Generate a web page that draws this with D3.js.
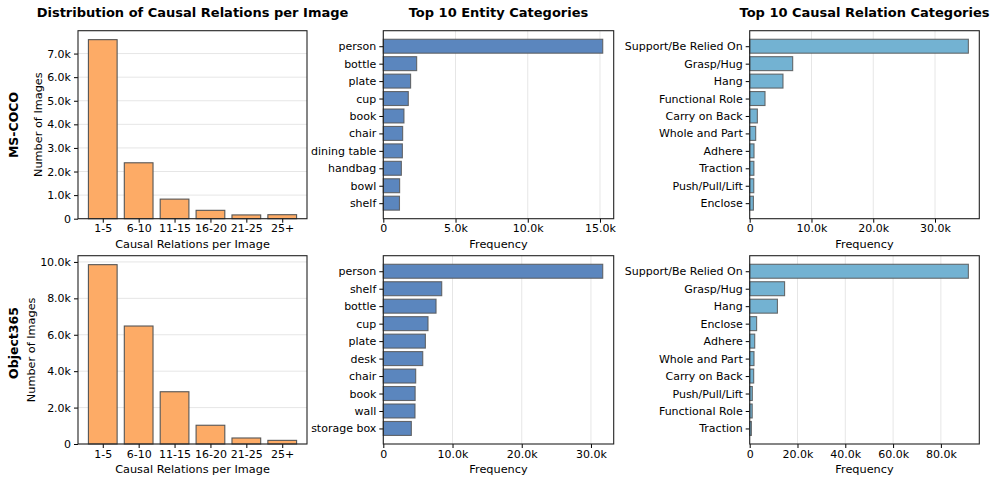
<!DOCTYPE html>
<html>
<head>
<meta charset="utf-8">
<script src="https://cdn.jsdelivr.net/npm/d3@7"></script>
<style>
  body { margin: 0; background: #fff; }
  svg { font-family: "DejaVu Sans", sans-serif; }
  .tick line { stroke: #000; }
</style>
</head>
<body>
<svg id="chart" width="997" height="483"></svg>
<script>
// --- data ---

const bins = ['1-5', '6-10', '11-15', '16-20', '21-25', '25+'];
const cocoBins = [7590, 2370, 830, 355, 160, 170];
const o365Bins = [9850, 6480, 2870, 1030, 330, 200];

const cocoEntities = ['person', 'bottle', 'plate', 'cup', 'book', 'chair', 'dining table', 'handbag', 'bowl', 'shelf'];
const cocoEntityFreq = [15190, 2310, 1890, 1730, 1430, 1340, 1320, 1250, 1130, 1120];
const o365Entities = ['person', 'shelf', 'bottle', 'cup', 'plate', 'desk', 'chair', 'book', 'wall', 'storage box'];
const o365EntityFreq = [31700, 8440, 7620, 6460, 6080, 5700, 4680, 4600, 4580, 4050];

const cocoRelations = ['Support/Be Relied On', 'Grasp/Hug', 'Hang', 'Functional Role', 'Carry on Back', 'Whole and Part', 'Adhere', 'Traction', 'Push/Pull/Lift', 'Enclose'];
const cocoRelationFreq = [35400, 6960, 5390, 2480, 1240, 970, 700, 680, 660, 600];
const o365Relations = ['Support/Be Relied On', 'Grasp/Hug', 'Hang', 'Enclose', 'Adhere', 'Whole and Part', 'Carry on Back', 'Push/Pull/Lift', 'Functional Role', 'Traction'];
const o365RelationFreq = [91500, 14600, 11600, 2900, 2100, 1800, 1670, 1100, 1050, 700];

const ticksHistTop = [0, 1000, 2000, 3000, 4000, 5000, 6000, 7000];
const ticksHistBot = [0, 2000, 4000, 6000, 8000, 10000];
const ticksEntTop = [0, 5000, 10000, 15000];
const ticksEntBot = [0, 10000, 20000, 30000];
const ticksRelTop = [0, 10000, 20000, 30000];
const ticksRelBot = [0, 20000, 40000, 60000, 80000];

const ORANGE = '#fdab66';
const BLUE = '#5b86be';
const LIGHTBLUE = '#73b2d2';
const FONT = '"DejaVu Sans", sans-serif';
const TICK_SIZE = 11;

// --- layout ---

const svg = d3.select('#chart');
const cols = [[78, 307], [383.3, 613.7], [749.7, 979.3]];
const rows = [[30.7, 218.7], [255.7, 444]];

const fmtK = v => v === 0 ? '0' : (v / 1000).toFixed(1) + 'k';

function styleAxis(a) {
  a.select('.domain').remove();
  a.attr('font-family', FONT).attr('font-size', TICK_SIZE);
  a.selectAll('.tick text').attr('fill', '#000');
}

function frame(g, x0, x1, y0, y1) {
  g.append('rect')
    .attr('x', x0).attr('y', y0)
    .attr('width', x1 - x0).attr('height', y1 - y0)
    .attr('fill', 'none').attr('stroke', '#222').attr('stroke-width', 1.1);
}

function histPanel(col, row, values, ticks, ylabelX) {
  const [x0, x1] = cols[col], [y0, y1] = rows[row];
  const g = svg.append('g');
  const n = values.length;
  const pad = 0.05 * (n - 0.2);
  const x = d3.scaleLinear().domain([-0.4 - pad, n - 0.6 + pad]).range([x0, x1]);
  const y = d3.scaleLinear().domain([0, d3.max(values) * 1.05]).range([y1, y0]);

  g.append('g').selectAll('line').data(ticks).join('line')
    .attr('x1', x0).attr('x2', x1)
    .attr('y1', d => y(d)).attr('y2', d => y(d))
    .attr('stroke', '#e6e6e6').attr('stroke-width', 1);

  g.append('g').selectAll('rect').data(values).join('rect')
    .attr('x', (d, i) => x(i - 0.4)).attr('width', x(0.4) - x(-0.4))
    .attr('y', d => y(d)).attr('height', d => y1 - y(d))
    .attr('fill', ORANGE).attr('stroke', '#555').attr('stroke-width', 1.1);

  g.append('g').attr('transform', `translate(${x0},0)`)
    .call(d3.axisLeft(y).tickValues(ticks).tickFormat(fmtK).tickSize(4).tickPadding(3))
    .call(styleAxis);

  g.append('g').attr('transform', `translate(0,${y1})`)
    .call(d3.axisBottom(x).tickValues(d3.range(n)).tickFormat(i => bins[i]).tickSize(4).tickPadding(2))
    .call(styleAxis);

  frame(g, x0, x1, y0, y1);

  g.append('text')
    .attr('transform', `translate(${ylabelX},${(y0 + y1) / 2}) rotate(-90)`)
    .attr('text-anchor', 'middle').attr('dominant-baseline', 'central')
    .attr('font-size', 11.3).text('Number of Images');
  g.append('text')
    .attr('x', (x0 + x1) / 2).attr('y', y1 + 29)
    .attr('text-anchor', 'middle').attr('font-size', 11.3)
    .text('Causal Relations per Image');
}

function barhPanel(col, row, labels, values, ticks, color) {
  const [x0, x1] = cols[col], [y0, y1] = rows[row];
  const g = svg.append('g');
  const n = values.length;
  const pad = 0.05 * (n - 0.2);
  const y = d3.scaleLinear().domain([-0.4 - pad, n - 0.6 + pad]).range([y0, y1]);
  const x = d3.scaleLinear().domain([0, d3.max(values) * 1.05]).range([x0, x1]);

  g.append('g').selectAll('line').data(ticks).join('line')
    .attr('x1', d => x(d)).attr('x2', d => x(d))
    .attr('y1', y0).attr('y2', y1)
    .attr('stroke', '#e6e6e6').attr('stroke-width', 1);

  g.append('g').selectAll('rect').data(values).join('rect')
    .attr('x', x0).attr('width', d => x(d) - x0)
    .attr('y', (d, i) => y(i - 0.4)).attr('height', y(0.4) - y(-0.4))
    .attr('fill', color).attr('stroke', '#555').attr('stroke-opacity', 0.85).attr('stroke-width', 1.1);

  g.append('g').attr('transform', `translate(${x0},0)`)
    .call(d3.axisLeft(y).tickValues(d3.range(n)).tickFormat(i => labels[i]).tickSize(4).tickPadding(3))
    .call(styleAxis);

  g.append('g').attr('transform', `translate(0,${y1})`)
    .call(d3.axisBottom(x).tickValues(ticks).tickFormat(fmtK).tickSize(4).tickPadding(2))
    .call(styleAxis);

  frame(g, x0, x1, y0, y1);

  g.append('text')
    .attr('x', (x0 + x1) / 2).attr('y', y1 + 29)
    .attr('text-anchor', 'middle').attr('font-size', 11.3)
    .text('Frequency');
}

histPanel(0, 0, cocoBins, ticksHistTop, 38);
histPanel(0, 1, o365Bins, ticksHistBot, 31);
barhPanel(1, 0, cocoEntities, cocoEntityFreq, ticksEntTop, BLUE);
barhPanel(1, 1, o365Entities, o365EntityFreq, ticksEntBot, BLUE);
barhPanel(2, 0, cocoRelations, cocoRelationFreq, ticksRelTop, LIGHTBLUE);
barhPanel(2, 1, o365Relations, o365RelationFreq, ticksRelBot, LIGHTBLUE);

// titles
const titles = ['Distribution of Causal Relations per Image', 'Top 10 Entity Categories', 'Top 10 Causal Relation Categories'];
svg.append('g').selectAll('text').data(titles).join('text')
  .attr('x', (d, i) => (cols[i][0] + cols[i][1]) / 2).attr('y', 17)
  .attr('text-anchor', 'middle').attr('font-size', 13).attr('font-weight', 'bold')
  .text(d => d);

// row labels
const rowLabels = ['MS-COCO', 'Object365'];
const rowLabelY = [125, 343];
svg.append('g').selectAll('text').data(rowLabels).join('text')
  .attr('transform', (d, i) => `translate(13,${rowLabelY[i]}) rotate(-90)`)
  .attr('text-anchor', 'middle').attr('dominant-baseline', 'central')
  .attr('font-size', 12.5).attr('font-weight', 'bold')
  .text(d => d);
</script>
</body>
</html>
